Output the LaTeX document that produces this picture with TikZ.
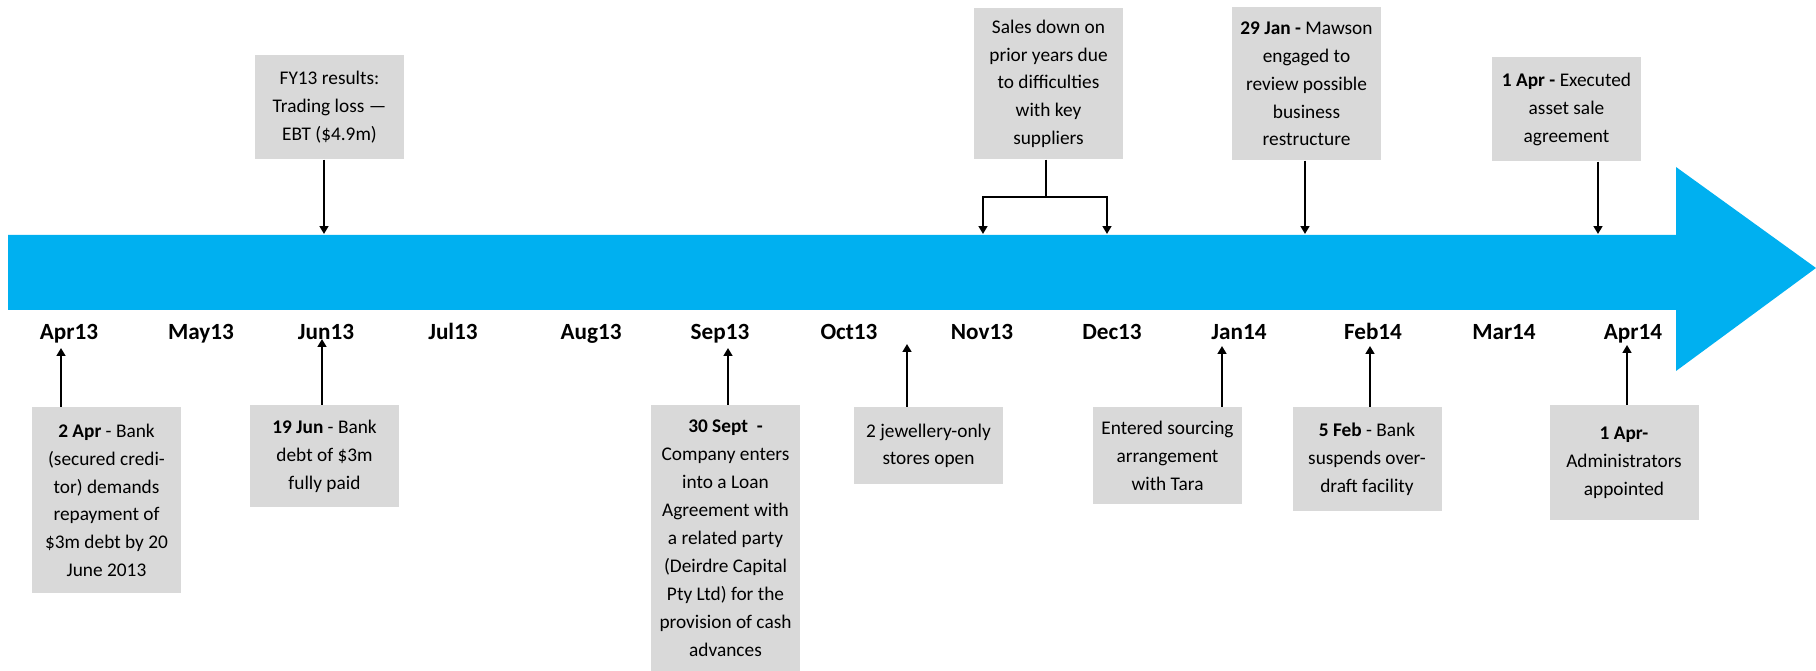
\documentclass[tikz,border=0pt]{standalone}
\usepackage{fontspec}
\setmainfont{Carlito}
\usepackage{tikz}
\usetikzlibrary{arrows.meta}
\definecolor{tlblue}{HTML}{00B0F0}
\definecolor{boxgray}{HTML}{D9D9D9}

\tikzset{
  evbox/.style={fill=boxgray, anchor=north, align=center, minimum width=2.98cm,
    inner xsep=2pt, font=\fontsize{11}{15.9}\selectfont},
  month/.style={anchor=base, font=\fontsize{13.2}{15}\selectfont\bfseries},
  evarrow/.style={-{Triangle[length=4.5pt,width=5pt]}, line width=1.1pt},
}

\begin{document}
\begin{tikzpicture}[x=0.02cm, y=-0.02cm]
  \useasboundingbox (0,0) rectangle (1816,671);
  % Time arrow
  \fill[tlblue] (8,235) -- (1676,235) -- (1676,167) -- (1816,268)
    -- (1676,371) -- (1676,310) -- (8,310) -- cycle;
  % Month labels
  \node[month] (m-apr13) at (69,340) {Apr13};
  \node[month] (m-may13) at (201,340) {May13};
  \node[month] (m-jun13) at (326,340) {Jun13};
  \node[month] (m-jul13) at (453,340) {Jul13};
  \node[month] (m-aug13) at (591,340) {Aug13};
  \node[month] (m-sep13) at (720,340) {Sep13};
  \node[month] (m-oct13) at (849,340) {Oct13};
  \node[month] (m-nov13) at (982,340) {Nov13};
  \node[month] (m-dec13) at (1112,340) {Dec13};
  \node[month] (m-jan14) at (1239,340) {Jan14};
  \node[month] (m-feb14) at (1373,340) {Feb14};
  \node[month] (m-mar14) at (1504,340) {Mar14};
  \node[month] (m-apr14) at (1633,340) {Apr14};
  % Events above the arrow
  \node[evbox, minimum height=2.08cm] (fybox) at (329.5,55)
    {FY13 results:\\ Trading loss ---\\ EBT (\$4.9m)};
  \node[evbox, minimum height=3.02cm] (salesbox) at (1048.5,8)
    {Sales down on\\ prior years due\\ to difficulties\\ with key\\ suppliers};
  \node[evbox, minimum height=3.06cm] (mawbox) at (1306.5,7)
    {\textbf{29 Jan -} Mawson\\ engaged to\\ review possible\\ business\\ restructure};
  \node[evbox, minimum height=2.08cm] (exebox) at (1566.5,57)
    {\textbf{1 Apr -} Executed\\ asset sale\\ agreement};
  % Events below the arrow
  \node[evbox, minimum height=3.72cm] (aprbox) at (106.5,407)
    {\textbf{2 Apr} - Bank\\ (secured credi-\\ tor) demands\\ repayment of\\ \$3m debt by 20\\ June 2013};
  \node[evbox, minimum height=2.04cm] (junbox) at (324.5,405)
    {\textbf{19 Jun} - Bank\\ debt of \$3m\\ fully paid};
  \node[evbox, minimum height=5.32cm] (sepbox) at (725.5,405)
    {\textbf{30 Sept\ \ -}\\ Company enters\\ into a Loan\\ Agreement with\\ a related party\\ (Deirdre Capital\\ Pty Ltd) for the\\ provision of cash\\ advances};
  \node[evbox, minimum height=1.54cm] (octbox) at (928.5,407)
    {2 jewellery-only\\ stores open};
  \node[evbox, minimum height=1.94cm] (janbox) at (1167.5,407)
    {Entered sourcing\\ arrangement\\ with Tara};
  \node[evbox, minimum height=2.08cm] (febbox) at (1367,407)
    {\textbf{5 Feb} - Bank\\ suspends over-\\ draft facility};
  \node[evbox, minimum height=2.30cm] (admbox) at (1624,405)
    {\textbf{1 Apr-}\\ Administrators\\ appointed};
  % Arrow ends on the time arrow
  \coordinate (fy-tip) at (324,234);
  \coordinate (sales-fork) at (1046,197);
  \coordinate (nov-tip) at (983,234);
  \coordinate (dec-tip) at (1107,234);
  \coordinate (maw-tip) at (1305,234);
  \coordinate (exe-tip) at (1598,234);
  % Arrow ends under the month labels
  \coordinate (apr-tip) at (61,348);
  \coordinate (jun-tip) at (322,339);
  \coordinate (sep-tip) at (728,348);
  \coordinate (oct-tip) at (907,344);
  \coordinate (jan-tip) at (1222,346);
  \coordinate (feb-tip) at (1370,346);
  \coordinate (adm-tip) at (1627,345);
  % Connectors from the top boxes
  \draw[evarrow] (fybox.south -| fy-tip) -- (fy-tip);
  \draw[line width=1.1pt] (salesbox.south -| sales-fork) -- (sales-fork);
  \draw[evarrow] (sales-fork) -| (nov-tip);
  \draw[evarrow] (sales-fork) -| (dec-tip);
  \draw[evarrow] (mawbox.south -| maw-tip) -- (maw-tip);
  \draw[evarrow] (exebox.south -| exe-tip) -- (exe-tip);
  % Connectors from the bottom boxes
  \draw[evarrow] (aprbox.north -| apr-tip) -- (apr-tip);
  \draw[evarrow] (junbox.north -| jun-tip) -- (jun-tip);
  \draw[evarrow] (sepbox.north -| sep-tip) -- (sep-tip);
  \draw[evarrow] (octbox.north -| oct-tip) -- (oct-tip);
  \draw[evarrow] (janbox.north -| jan-tip) -- (jan-tip);
  \draw[evarrow] (febbox.north -| feb-tip) -- (feb-tip);
  \draw[evarrow] (admbox.north -| adm-tip) -- (adm-tip);
\end{tikzpicture}
\end{document}
